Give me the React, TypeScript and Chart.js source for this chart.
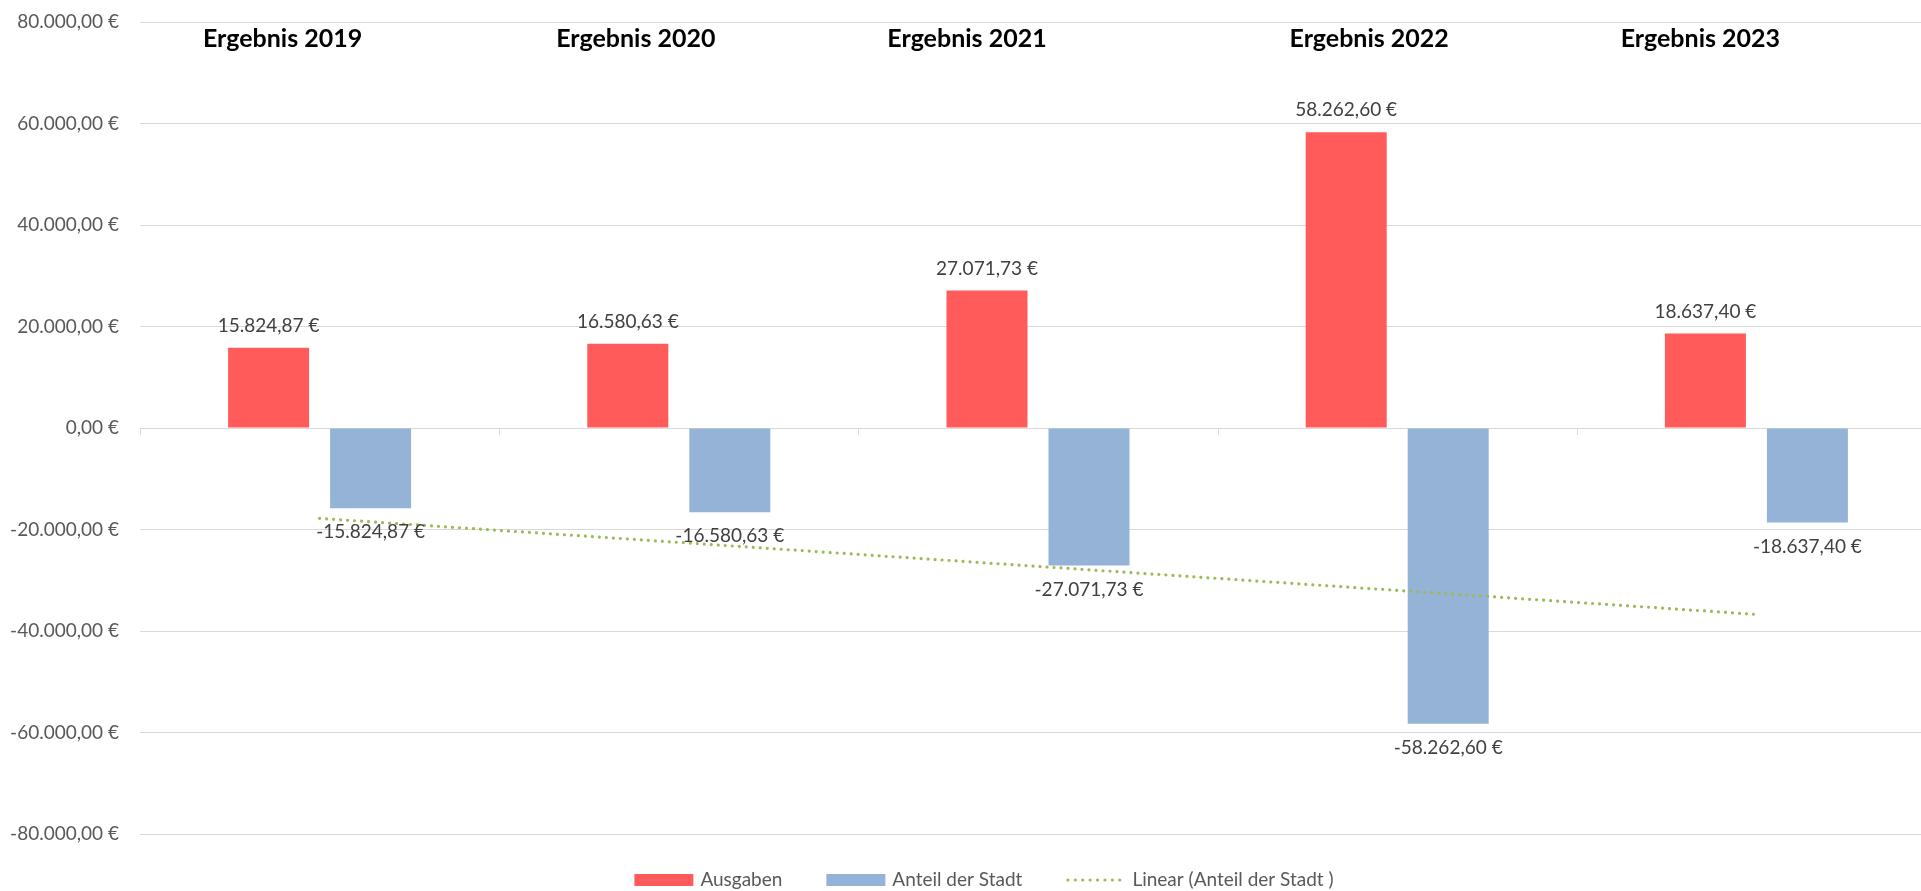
import React, { useEffect, useRef } from "react";
import { Chart, registerables } from "chart.js";

Chart.register(...registerables);

// ---------- data ----------
const categories = ["Ergebnis 2019", "Ergebnis 2020", "Ergebnis 2021", "Ergebnis 2022", "Ergebnis 2023"];
const ausgaben = [15824.87, 16580.63, 27071.73, 58262.6, 18637.4];
const anteilDerStadt = [-15824.87, -16580.63, -27071.73, -58262.6, -18637.4];
const yTickValues = [80000, 60000, 40000, 20000, 0, -20000, -40000, -60000, -80000];
const seriesNames = ["Ausgaben", "Anteil der Stadt", "Linear (Anteil der Stadt )"];

// ---------- style / layout ----------
const RED = "#FF5B5B";
const BLUE = "#95B3D7";
const GREEN = "#9BBB59";
const GRID = "#D9D9D9";
const FONT = "Lato, 'Open Sans', sans-serif";
const headerShift = [-37, -43, -71, -28, -56];
const LEGEND_CENTER_X = 984;
const LEGEND_Y = 880;

function euro(v: number): string {
  const neg = v < 0;
  const fixed = Math.abs(v).toFixed(2);
  const [intPart, dec] = fixed.split(".");
  const grouped = intPart.replace(/\B(?=(\d{3})+(?!\d))/g, ".");
  return (neg ? "-" : "") + grouped + "," + dec + " €";
}

// Excel-style linear trendline (least squares) of a series
function linearTrend(values: number[]): number[] {
  const n = values.length;
  const xs = values.map((_, i) => i + 1);
  const mx = xs.reduce((a, b) => a + b, 0) / n;
  const my = values.reduce((a, b) => a + b, 0) / n;
  let num = 0;
  let den = 0;
  xs.forEach((x, i) => {
    num += (x - mx) * (values[i] - my);
    den += (x - mx) * (x - mx);
  });
  const slope = num / den;
  return xs.map((x) => my + slope * (x - mx));
}

const trend = linearTrend(anteilDerStadt);

const axisTicksPlugin = {
  id: "axisTicks",
  beforeDatasetsDraw(chart: any) {
    const { ctx, chartArea, scales } = chart;
    const y0 = scales.y.getPixelForValue(0);
    const n = categories.length;
    const w = (chartArea.right - chartArea.left) / n;
    ctx.save();
    ctx.strokeStyle = GRID;
    ctx.lineWidth = 1;
    ctx.beginPath();
    ctx.moveTo(chartArea.left, Math.round(y0) + 0.5);
    ctx.lineTo(chartArea.right, Math.round(y0) + 0.5);
    for (let i = 0; i <= n; i++) {
      const x = Math.round(chartArea.left + i * w) + 0.5;
      ctx.moveTo(x, y0);
      ctx.lineTo(x, y0 + 7);
    }
    ctx.stroke();
    ctx.restore();
  },
};

const dataLabelsPlugin = {
  id: "dataLabels",
  afterDatasetsDraw(chart: any) {
    const { ctx } = chart;
    ctx.save();
    ctx.font = `19px ${FONT}`;
    ctx.fillStyle = "#404040";
    ctx.textAlign = "center";
    ctx.textBaseline = "middle";
    [0, 1].forEach((di) => {
      const meta = chart.getDatasetMeta(di);
      const vals = chart.data.datasets[di].data as number[];
      meta.data.forEach((el: any, i: number) => {
        const v = vals[i];
        const y = v >= 0 ? el.y - 22 : el.y + 24;
        ctx.fillText(euro(v), el.x, y);
      });
    });
    ctx.restore();
  },
};

const headerPlugin = {
  id: "headers",
  afterDraw(chart: any) {
    const { ctx, scales } = chart;
    ctx.save();
    ctx.font = `bold 25px ${FONT}`;
    ctx.fillStyle = "#000000";
    ctx.textAlign = "center";
    ctx.textBaseline = "alphabetic";
    categories.forEach((c, i) => {
      ctx.fillText(c, scales.x.getPixelForValue(i) + headerShift[i], 47);
    });
    ctx.restore();
  },
};

const legendPlugin = {
  id: "customLegend",
  afterDraw(chart: any) {
    const { ctx } = chart;
    const boxW = 59;
    const boxH = 12;
    const textGap = 7;
    const itemGap = 44;
    ctx.save();
    ctx.font = `19px ${FONT}`;
    const widths = seriesNames.map((s) => ctx.measureText(s).width);
    const total =
      widths.reduce((a, b) => a + b, 0) + seriesNames.length * (boxW + textGap) + (seriesNames.length - 1) * itemGap;
    let x = LEGEND_CENTER_X - total / 2;
    seriesNames.forEach((name, i) => {
      if (i === 0 || i === 1) {
        ctx.fillStyle = i === 0 ? RED : BLUE;
        ctx.fillRect(x, LEGEND_Y - boxH / 2, boxW, boxH);
      } else {
        ctx.strokeStyle = GREEN;
        ctx.lineWidth = 3.2;
        ctx.lineCap = "round";
        ctx.setLineDash([0.01, 7.4]);
        ctx.beginPath();
        ctx.moveTo(x + 1.5, LEGEND_Y);
        ctx.lineTo(x + boxW, LEGEND_Y);
        ctx.stroke();
        ctx.setLineDash([]);
      }
      ctx.fillStyle = "#595959";
      ctx.textAlign = "left";
      ctx.textBaseline = "middle";
      ctx.fillText(name, x + boxW + textGap, LEGEND_Y);
      x += boxW + textGap + widths[i] + itemGap;
    });
    ctx.restore();
  },
};

export default function App() {
  const ref = useRef<HTMLCanvasElement | null>(null);

  useEffect(() => {
    const canvas = ref.current;
    if (!canvas) return;
    const chart = new Chart(canvas, {
      type: "bar",
      data: {
        labels: categories,
        datasets: [
          {
            type: "bar",
            label: seriesNames[0],
            data: ausgaben,
            backgroundColor: RED,
            borderWidth: 0,
            barPercentage: 0.794,
            categoryPercentage: 0.568,
            order: 1,
          },
          {
            type: "bar",
            label: seriesNames[1],
            data: anteilDerStadt,
            backgroundColor: BLUE,
            borderWidth: 0,
            barPercentage: 0.794,
            categoryPercentage: 0.568,
            order: 1,
          },
          {
            type: "line",
            label: seriesNames[2],
            data: trend,
            borderColor: GREEN,
            borderWidth: 3.2,
            borderDash: [0.01, 7],
            borderCapStyle: "round",
            pointRadius: 0,
            fill: false,
            tension: 0,
            order: 0,
          } as any,
        ],
      },
      options: {
        animation: false,
        responsive: true,
        maintainAspectRatio: false,
        layout: { padding: { top: 22, bottom: 57, left: 0, right: 0 } },
        plugins: {
          legend: { display: false },
          tooltip: { enabled: false },
        },
        scales: {
          x: {
            type: "category",
            display: false,
            offset: true,
            grid: { display: false },
          },
          y: {
            min: -80000,
            max: 80000,
            afterFit: (s: any) => {
              s.width = 140;
              s.paddingTop = 0;
              s.paddingBottom = 0;
            },
            afterBuildTicks: (s: any) => {
              s.ticks = yTickValues.map((v) => ({ value: v }));
            },
            ticks: {
              color: "#595959",
              font: { family: FONT, size: 19 },
              padding: 21,
              callback: (v: any) => euro(Number(v)),
            },
            grid: { color: GRID, lineWidth: 1, drawTicks: false },
            border: { display: false },
          },
        },
      },
      plugins: [axisTicksPlugin, dataLabelsPlugin, headerPlugin, legendPlugin],
    });
    return () => chart.destroy();
  }, []);

  return (
    <div
      style={{
        position: "fixed",
        left: 0,
        top: 0,
        width: 1921,
        height: 891,
        overflow: "hidden",
        background: "#ffffff",
      }}
    >
      <div style={{ position: "relative", width: 1936, height: 891 }}>
        <canvas ref={ref} />
      </div>
    </div>
  );
}
